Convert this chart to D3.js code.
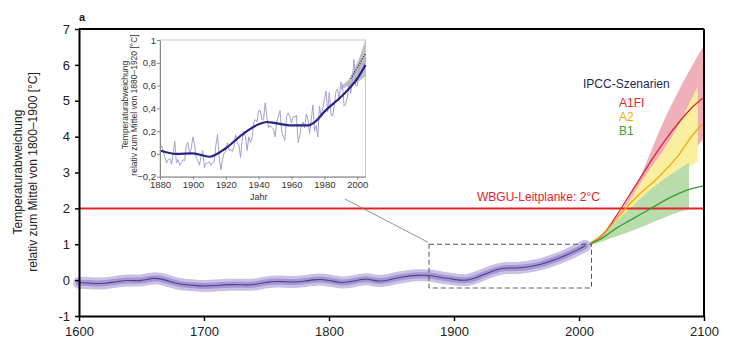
<!DOCTYPE html>
<html><head><meta charset="utf-8">
<script src="https://cdn.jsdelivr.net/npm/d3@7"></script>
<style>
body{margin:0;background:#fff;}
svg{display:block;font-family:"Liberation Sans",Arial,Helvetica,sans-serif;}
</style></head>
<body><svg id="c" width="730" height="353"></svg>
<script>
// ---------- DATA ----------
const xTicks = [1600, 1700, 1800, 1900, 2000, 2100];
const yTicks = [-1, 0, 1, 2, 3, 4, 5, 6, 7];

const histYears = [1600,1610,1620,1630,1640,1650,1660,1670,1680,1690,1700,1710,1720,1730,1740,1750,1760,1770,1780,1790,1800,1810,1820,1830,1840,1850,1860,1870,1880,1890,1900,1910,1920,1930,1940,1950,1960,1970,1980,1990,2000,2005];
const histValues = [-0.07,-0.09,-0.1,-0.04,0.0,-0.03,0.08,0.0,-0.12,-0.14,-0.17,-0.15,-0.12,-0.13,-0.14,-0.05,-0.03,-0.06,-0.04,0.03,0.0,-0.09,-0.03,0.06,-0.06,0.03,0.1,0.14,0.14,0.07,0.02,-0.03,0.1,0.25,0.35,0.33,0.37,0.44,0.56,0.7,0.86,0.96];

const scenYears = [2005,2020,2030,2040,2050,2060,2070,2080,2090,2100];
const a1fiLine = [0.96,1.3,1.8,2.35,2.9,3.45,3.95,4.4,4.8,5.1];
const a2Line   = [0.96,1.3,1.7,2.1,2.45,2.75,3.1,3.5,4.0,4.4];
const b1Line   = [0.96,1.2,1.45,1.65,1.85,2.05,2.25,2.42,2.55,2.63];

const a1fiBandYears = [2005,2020,2030,2040,2050,2060,2070,2080,2090,2100];
const a1fiUpper = [0.96,1.35,1.75,2.3,2.95,3.8,4.6,5.3,5.95,6.55];
const a1fiLower = [0.96,1.1,1.3,1.6,1.95,2.35,2.75,3.15,3.55,3.95];

const a2BandYears = [2005,2020,2030,2040,2050,2060,2070,2080,2090,2095];
const a2Upper = [0.96,1.3,1.7,2.2,2.75,3.25,3.75,4.35,5.05,5.4];
const a2Lower = [0.96,1.1,1.3,1.55,1.85,2.2,2.55,2.9,3.2,3.3];

const b1BandYears = [2005,2020,2030,2040,2050,2060,2070,2080,2088];
const b1Upper = [0.96,1.3,1.65,1.97,2.3,2.6,2.87,3.1,3.28];
const b1Lower = [0.96,1.1,1.22,1.34,1.48,1.63,1.77,1.9,1.96];

const guardrail = 2;
const zoomBox = {x0:1880, x1:2010, y0:-0.22, y1:1.0};

// inset
const insetXTicks = [1880,1900,1920,1940,1960,1980,2000];
const insetYTicks = [-0.2,0,0.2,0.4,0.6,0.8,1];
const annualYears = d3.range(1880, 2006);
const annualValues = [0.05,0.07,0.02,-0.03,-0.08,-0.05,-0.04,-0.09,0.0,0.11,-0.08,-0.05,-0.1,-0.08,-0.05,-0.06,0.08,0.1,0.0,0.05,0.15,0.08,-0.03,-0.06,-0.1,-0.02,0.03,-0.12,-0.08,-0.08,-0.07,-0.1,-0.08,-0.07,0.08,0.17,-0.03,-0.14,-0.05,0.01,0.02,0.1,0.03,0.04,0.02,0.06,0.17,0.09,0.08,-0.03,0.12,0.2,0.15,0.03,0.15,0.1,0.14,0.27,0.3,0.28,0.38,0.38,0.3,0.3,0.45,0.33,0.23,0.25,0.23,0.22,0.15,0.28,0.33,0.38,0.2,0.15,0.12,0.33,0.36,0.33,0.27,0.33,0.32,0.34,0.1,0.16,0.25,0.28,0.23,0.35,0.3,0.18,0.3,0.43,0.2,0.25,0.15,0.42,0.33,0.4,0.48,0.55,0.37,0.54,0.35,0.33,0.42,0.55,0.57,0.47,0.63,0.6,0.42,0.44,0.5,0.62,0.53,0.65,0.83,0.6,0.6,0.73,0.8,0.8,0.74,0.84];
const smoothYears = [1880,1890,1900,1910,1920,1930,1940,1945,1950,1960,1970,1975,1980,1990,2000,2005];
const smoothValues = [0.03,0.0,0.005,-0.025,0.05,0.17,0.26,0.28,0.27,0.25,0.25,0.29,0.37,0.5,0.66,0.78];
const fanYears = [1990,1995,2000,2005];
const fanUpper = [0.6,0.66,0.8,1.0];
const fanLower = [0.56,0.6,0.63,0.68];

// ---------- DRAW ----------
const svg = d3.select("#c");
const x = d3.scaleLinear().domain([1600,2100]).range([79,704]);
const y = d3.scaleLinear().domain([-1,7]).range([316,29]);

const zip = (xs, ys) => xs.map((v,i)=>[v, ys[i]]);
const band = (xs, lo, hi) => xs.map((v,i)=>({x:v, lo:lo[i], hi:hi[i]}));
const area = d3.area().x(d=>x(d.x)).y0(d=>y(d.lo)).y1(d=>y(d.hi)).curve(d3.curveMonotoneX);
const line = d3.line().x(d=>x(d[0])).y(d=>y(d[1])).curve(d3.curveMonotoneX);

// scenario bands
svg.append("path").attr("d", area(band(a1fiBandYears,a1fiLower,a1fiUpper))).attr("fill","#efb0b9");
svg.append("path").attr("d", area(band(a2BandYears,a2Lower,a2Upper))).attr("fill","#faef9e");
svg.append("path").attr("d", area(band(b1BandYears,b1Lower,b1Upper))).attr("fill","#b8dcac");

// guardrail
svg.append("line").attr("x1",x(1600)).attr("x2",x(2100)).attr("y1",y(guardrail)).attr("y2",y(guardrail))
  .attr("stroke","#e3232a").attr("stroke-width",2);
svg.append("text").attr("x",477).attr("y",y(guardrail)-7).attr("font-size",12).attr("fill","#e3232a")
  .text("WBGU-Leitplanke: 2°C");

// scenario lines
svg.append("path").attr("d", line(zip(scenYears,a1fiLine))).attr("fill","none").attr("stroke","#e1262f").attr("stroke-width",1.3);
svg.append("path").attr("d", line(zip(scenYears,a2Line))).attr("fill","none").attr("stroke","#f0aa10").attr("stroke-width",1.3);
svg.append("path").attr("d", line(zip(scenYears,b1Line))).attr("fill","none").attr("stroke","#3c9a2f").attr("stroke-width",1.3);

// historical band + line
const hist = zip(histYears, histValues);
const hline = d3.line().x(d=>x(d[0])).y(d=>y(d[1])).curve(d3.curveBasis);
svg.append("path").attr("d", hline(hist)).attr("fill","none").attr("stroke","#cbc1e6").attr("stroke-width",12).attr("stroke-linecap","round");
svg.append("path").attr("d", hline(hist)).attr("fill","none").attr("stroke","#a596d2").attr("stroke-width",6).attr("stroke-linecap","round");
svg.append("path").attr("d", hline(hist)).attr("fill","none").attr("stroke","#4c3f8f").attr("stroke-width",1.1);

// zoom box
svg.append("rect").attr("x",x(zoomBox.x0)).attr("y",y(zoomBox.y1))
  .attr("width",x(zoomBox.x1)-x(zoomBox.x0)).attr("height",y(zoomBox.y0)-y(zoomBox.y1))
  .attr("fill","none").attr("stroke","#555").attr("stroke-width",1).attr("stroke-dasharray","5,3");

// frame
svg.append("line").attr("x1",x(1600)).attr("x2",x(2100)).attr("y1",y(7)).attr("y2",y(7)).attr("stroke","#000").attr("stroke-width",2);
svg.append("line").attr("x1",x(2100)).attr("x2",x(2100)).attr("y1",y(7)).attr("y2",y(-1)).attr("stroke","#000").attr("stroke-width",2);

const gx = svg.append("g").attr("transform",`translate(0,${y(-1)})`)
  .call(d3.axisBottom(x).tickValues(xTicks).tickFormat(d3.format("d")).tickSize(5).tickSizeOuter(0));
const gy = svg.append("g").attr("transform",`translate(${x(1600)},0)`)
  .call(d3.axisLeft(y).tickValues(yTicks).tickFormat(d=>d).tickSize(4).tickSizeOuter(0));
[gx,gy].forEach(g=>{
  g.select(".domain").attr("stroke","#000").attr("stroke-width",2);
  g.selectAll(".tick line").attr("stroke","#000").attr("stroke-width",1.5);
  g.selectAll(".tick text").attr("font-size",13).attr("fill","#222").attr("font-family","Liberation Sans, Arial, sans-serif");
});
gx.selectAll(".tick text").attr("dy","0.95em");
gy.selectAll(".tick text").attr("x",-9);

// y label
const yl = svg.append("text").attr("transform","translate(18,172) rotate(-90)").attr("text-anchor","middle")
  .attr("font-size",12).attr("fill","#222");
yl.append("tspan").attr("x",0).attr("dy","0.35em").text("Temperaturabweichung");
yl.append("tspan").attr("x",0).attr("dy","1.25em").text("relativ zum Mittel von 1800–1900 [°C]");

svg.append("text").attr("x",79).attr("y",21).attr("font-size",11).attr("font-weight","bold").attr("fill","#222").text("a");

// legend
svg.append("text").attr("x",583).attr("y",88).attr("font-size",12).attr("fill","#1e2757").text("IPCC-Szenarien");
svg.append("text").attr("x",619).attr("y",107).attr("font-size",12).attr("fill","#e1262f").text("A1FI");
svg.append("text").attr("x",619).attr("y",121).attr("font-size",12).attr("fill","#f0b000").text("A2");
svg.append("text").attr("x",619).attr("y",135).attr("font-size",12).attr("fill","#3c9a2f").text("B1");

// leader line
svg.append("line").attr("x1",345).attr("y1",199).attr("x2",x(zoomBox.x0)-1).attr("y2",y(zoomBox.y1)-2)
  .attr("stroke","#777").attr("stroke-width",0.8);

// ---------- INSET ----------
const ix = d3.scaleLinear().domain([1880,2005]).range([160,365.5]);
const iy = d3.scaleLinear().domain([-0.2,1]).range([176.7,40]);
const ig = svg.append("g");
ig.append("rect").attr("x",ix(1880)).attr("y",iy(1)).attr("width",ix(2005)-ix(1880)).attr("height",iy(-0.2)-iy(1))
  .attr("fill","#fff").attr("stroke","#c8c8c8").attr("stroke-width",1);

// fan
const fan = fanYears.map((v,i)=>({x:v,lo:fanLower[i],hi:fanUpper[i]}));
ig.append("path").attr("d", d3.area().x(d=>ix(d.x)).y0(d=>iy(d.lo)).y1(d=>iy(d.hi)).curve(d3.curveMonotoneX)(fan))
  .attr("fill","#b5b5b5").attr("opacity",0.85);

const iline = d3.line().x(d=>ix(d[0])).y(d=>iy(d[1]));
ig.append("path").attr("d", iline(zip(annualYears,annualValues))).attr("fill","none").attr("stroke","#a59fd3").attr("stroke-width",1);
ig.append("path").attr("d", iline.curve(d3.curveMonotoneX)(zip(smoothYears,smoothValues))).attr("fill","none").attr("stroke","#2a2386").attr("stroke-width",2.2);
// ensemble dots in fan
ig.append("path").attr("d", d3.line().x(d=>ix(d[0])).y(d=>iy(d[1]))(zip([1996,2005],[0.66,0.88])))
  .attr("fill","none").attr("stroke","#333").attr("stroke-width",1.5).attr("stroke-dasharray","1,1.5");

const igx = ig.append("g").attr("transform",`translate(0,${iy(-0.2)})`)
  .call(d3.axisBottom(ix).tickValues(insetXTicks).tickFormat(d3.format("d")).tickSize(3).tickSizeOuter(0));
const igy = ig.append("g").attr("transform",`translate(${ix(1880)},0)`)
  .call(d3.axisLeft(iy).tickValues(insetYTicks).tickFormat(d=>d3.format(".1f")(d).replace(".",",").replace(/^0,0$/,"0").replace("1,0","1").replace("-0,0","0")).tickSize(3).tickSizeOuter(0));
[igx,igy].forEach(g=>{
  g.select(".domain").attr("stroke","#888").attr("stroke-width",1);
  g.selectAll(".tick line").attr("stroke","#888");
  g.selectAll(".tick text").attr("font-size",9.5).attr("fill","#333").attr("font-family","Liberation Sans, Arial, sans-serif");
});
igx.selectAll(".tick text").attr("dy","0.6em");
igy.selectAll(".tick text").attr("x",-4);

ig.append("text").attr("x",ix(1940)).attr("y",200).attr("text-anchor","middle").attr("font-size",9).attr("fill","#333").text("Jahr");
const il = ig.append("text").attr("transform","translate(125,105) rotate(-90)").attr("text-anchor","middle")
  .attr("font-size",8.5).attr("fill","#333");
il.append("tspan").attr("x",0).attr("dy","0.3em").text("Temperaturabweichung");
il.append("tspan").attr("x",0).attr("dy","1.15em").text("relativ zum Mittel von 1880–1920 [°C]");
</script>
</body></html>
